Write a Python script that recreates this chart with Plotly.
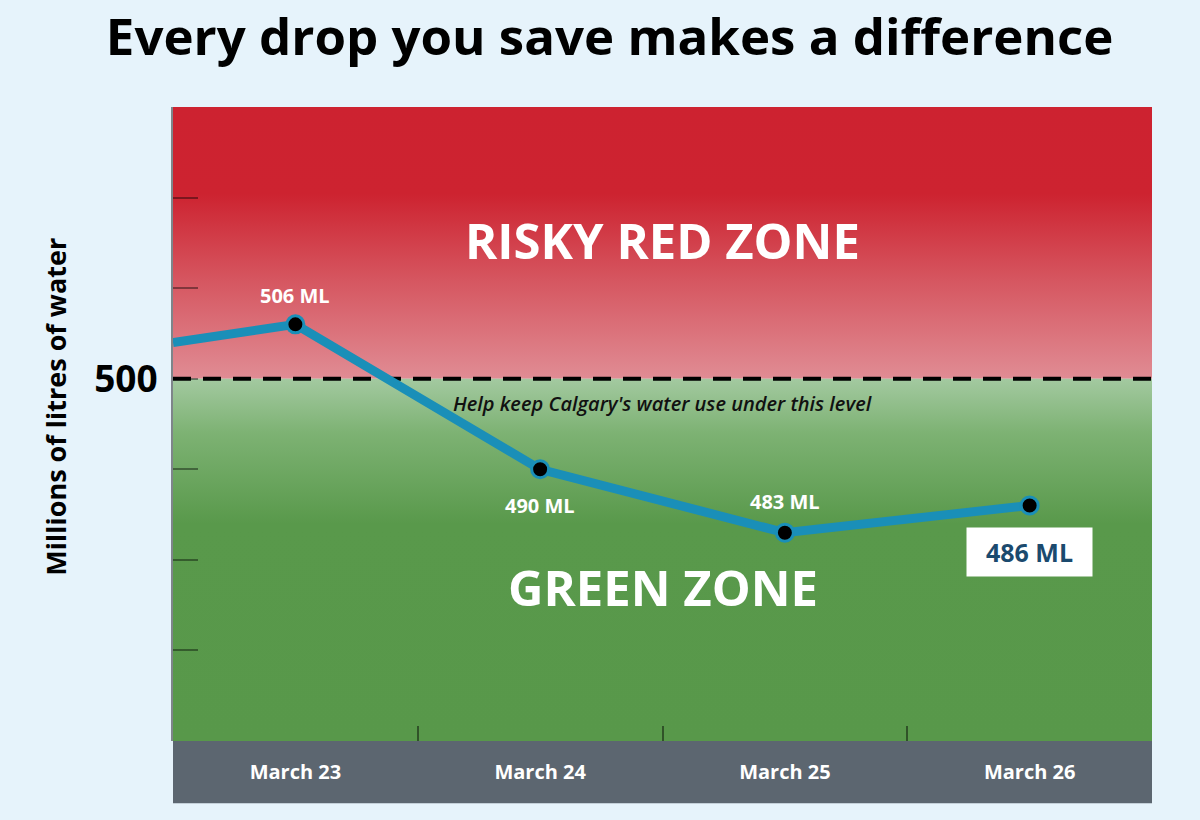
import plotly.graph_objects as go

# Data (millions of litres per day).
days = ["March 23", "March 24", "March 25", "March 26"]
usage_ml = [506, 490, 483, 486]
carry_in_ml = 504  # where the line enters from the previous day
limit_ml = 500
y_ticks = [460, 470, 480, 490, 500, 510, 520, 530]

FONT = "Open Sans"
LINE_BLUE = "#1a8fb8"
PAGE_BG = "#e6f3fb"

day_pos = [i + 0.5 for i in range(len(days))]
x_line = [0] + day_pos
y_line = [carry_in_ml] + usage_ml

fig = go.Figure()

# Red zone (above the limit) with a vertical gradient.
fig.add_trace(go.Scatter(
    x=[0, 4, 4, 0, 0], y=[limit_ml, limit_ml, y_ticks[-1], y_ticks[-1], limit_ml],
    mode="lines", fill="toself", line=dict(width=0), hoverinfo="skip",
    fillgradient=dict(type="vertical", colorscale=[
        [0.0, "#e08c94"], [0.35, "#d65862"], [0.68, "#cd2330"], [1.0, "#cd2230"]]),
    showlegend=False))

# Green zone (below the limit).
fig.add_trace(go.Scatter(
    x=[0, 4, 4, 0, 0], y=[y_ticks[0], y_ticks[0], limit_ml, limit_ml, y_ticks[0]],
    mode="lines", fill="toself", line=dict(width=0), hoverinfo="skip",
    fillgradient=dict(type="vertical", colorscale=[
        [0.0, "#58984a"], [0.6, "#59994b"], [0.85, "#7db273"], [1.0, "#a3c9a0"]]),
    showlegend=False))

# Limit line.
fig.add_trace(go.Scatter(
    x=[0, 4], y=[limit_ml, limit_ml], mode="lines",
    line=dict(color="black", width=4, dash="18px,12px"),
    hoverinfo="skip", showlegend=False))

# Water use line.
fig.add_trace(go.Scatter(
    x=x_line, y=y_line, mode="lines",
    line=dict(color=LINE_BLUE, width=9),
    hoverinfo="skip", showlegend=False, cliponaxis=False))
fig.add_trace(go.Scatter(
    x=day_pos, y=usage_ml, mode="markers",
    marker=dict(color="black", size=17, line=dict(color=LINE_BLUE, width=3)),
    showlegend=False, cliponaxis=False))

# Value labels.
label_shift = [29, -36, 31]
for xp, v, dy in zip(day_pos[:3], usage_ml[:3], label_shift):
    fig.add_annotation(x=xp, y=v, text=f"<b>{v} ML</b>", showarrow=False,
                       yshift=dy, font=dict(family=FONT, size=20, color="white"))
fig.add_annotation(x=day_pos[3], y=usage_ml[3], text=f"<b>{usage_ml[3]} ML</b>",
                   showarrow=False, yshift=-46, bgcolor="white",
                   borderpad=7, width=111,
                   font=dict(family=FONT, size=25, color="#1b4a6e"))

# Zone labels and limit caption.
fig.add_annotation(x=2, y=515.3, text="<b>RISKY RED ZONE</b>", showarrow=False,
                   font=dict(family=FONT, size=49, color="white"))
fig.add_annotation(x=2, y=477, text="<b>GREEN ZONE</b>", showarrow=False,
                   font=dict(family=FONT, size=49, color="white"))
fig.add_annotation(x=2, y=497.3, text="Help keep Calgary's water use under this level",
                   showarrow=False,
                   font=dict(family=FONT, size=20, color="#111111",
                             weight=600, style="italic"))

# Y axis title.
fig.add_annotation(xref="paper", yref="paper", x=-0.141, y=0.528,
                   text="<b>Millions of litres of water</b>", textangle=-90,
                   showarrow=False, font=dict(family=FONT, size=27, color="black"))

# Grey band under the plot holding the day labels.
fig.add_shape(type="rect", xref="x", yref="y domain", x0=0, x1=4, y0=-0.098, y1=0,
              fillcolor="#5c6670", line=dict(width=0), layer="below")

fig.update_xaxes(
    range=[0, 4], tickvals=day_pos, ticktext=[f"<b>{d}</b>" for d in days],
    ticks="", showgrid=False, zeroline=False, showline=False,
    tickfont=dict(family=FONT, size=20, color="white"), ticklabelstandoff=17,
    minor=dict(tickvals=[1, 2, 3], ticks="inside", ticklen=15, tickwidth=2,
               tickcolor="rgba(0,0,0,0.45)", showgrid=False),
)
fig.update_yaxes(
    range=[y_ticks[0], y_ticks[-1]], tickvals=y_ticks,
    ticktext=["<b>500</b>" if t == limit_ml else "" for t in y_ticks],
    ticks="inside", ticklen=25, tickwidth=2, tickcolor="rgba(0,0,0,0.4)",
    showline=True, linecolor="rgba(0,0,0,0.45)", linewidth=2,
    showgrid=False, zeroline=False,
    tickfont=dict(family=FONT, size=37, color="black"), ticklabelstandoff=6,
)

fig.update_layout(
    width=1200, height=820,
    paper_bgcolor=PAGE_BG, plot_bgcolor=PAGE_BG,
    margin=dict(l=173, r=48, t=107, b=79),
    title=dict(text="<b>Every drop you save makes a difference</b>",
               x=0.508, xanchor="center", y=0.955, yanchor="middle",
               font=dict(family=FONT, size=51, color="black")),
)

fig.write_html(
    "out.html",
    config={"displayModeBar": False},
    post_script=f"document.body.style.margin='0';document.body.style.background='{PAGE_BG}';"
                "document.body.style.overflow='hidden';",
)
